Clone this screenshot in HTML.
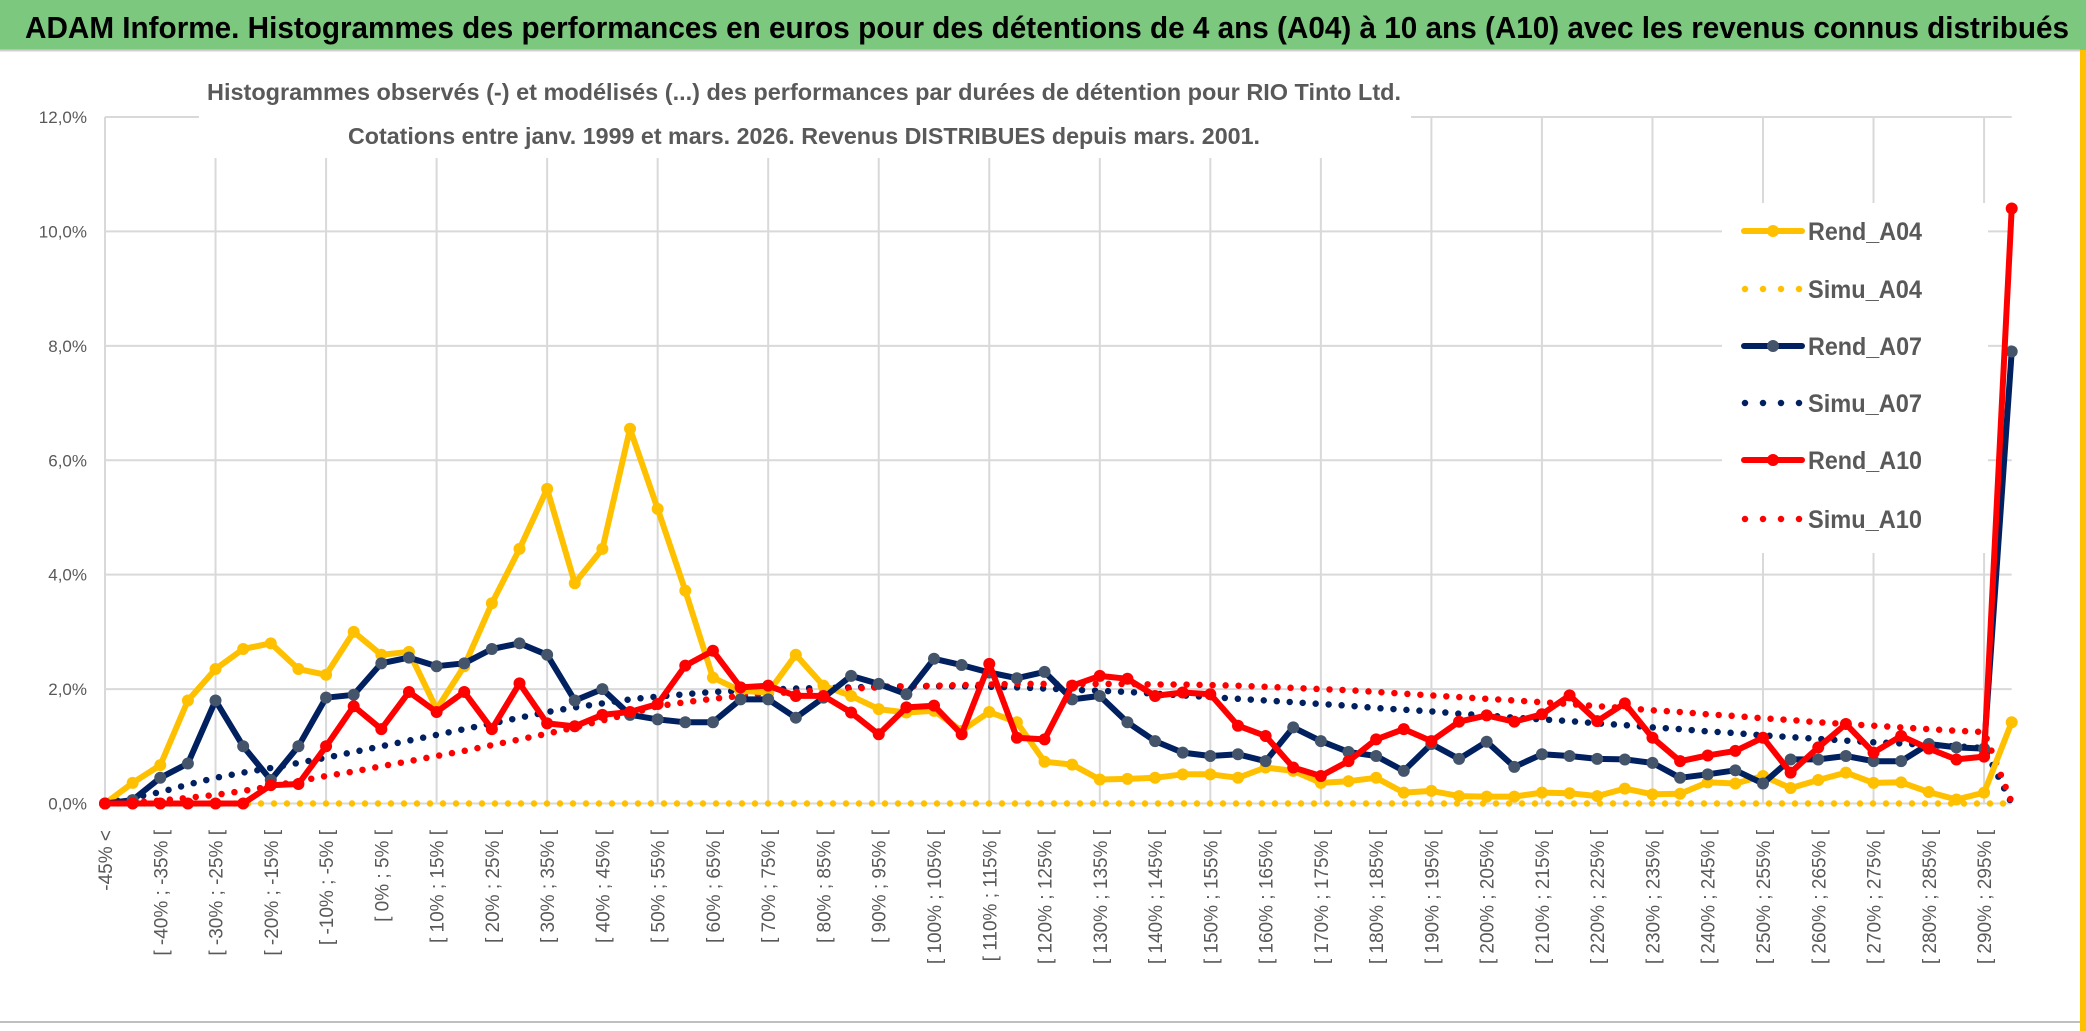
<!DOCTYPE html>
<html><head><meta charset="utf-8">
<style>
html,body{margin:0;padding:0;background:#fff;}
svg{display:block;}
</style></head>
<body>
<svg id="chart" width="2086" height="1031" viewBox="0 0 2086 1031" xmlns="http://www.w3.org/2000/svg">
  <rect x="0" y="0" width="2086" height="1031" fill="#fff"/>
  <rect x="0" y="0" width="2086" height="50" fill="#7dc87f"/>
  <line x1="0" y1="50.5" x2="2080" y2="50.5" stroke="#d0d0d0" stroke-width="2"/>
  <rect x="2080" y="50" width="6" height="981" fill="#ffc000"/>
  <line x1="0" y1="1022" x2="2080" y2="1022" stroke="#bfbfbf" stroke-width="2"/>
  <text x="25" y="38" font-family="'Liberation Sans', sans-serif" font-weight="bold" font-size="31" fill="#000" textLength="2044" lengthAdjust="spacingAndGlyphs">ADAM Informe. Histogrammes des performances en euros pour des détentions de 4 ans (A04) à 10 ans (A10) avec les revenus connus distribués</text>
  <g id="grid"></g>
  <g id="yticks"></g>
  <g id="xticks"></g>
  <rect x="199" y="62" width="1212" height="96" fill="#fff"/>
  <text x="207" y="100" font-family="'Liberation Sans', sans-serif" font-weight="bold" font-size="23" fill="#595959" textLength="1194" lengthAdjust="spacingAndGlyphs">Histogrammes observés (-) et modélisés (...) des performances par durées de détention pour RIO Tinto Ltd.</text>
  <text x="348" y="144" font-family="'Liberation Sans', sans-serif" font-weight="bold" font-size="23" fill="#595959" textLength="912" lengthAdjust="spacingAndGlyphs">Cotations entre janv. 1999 et mars. 2026. Revenus DISTRIBUES depuis mars. 2001.</text>
  <g id="series"></g>
  <g id="legend"></g>
</svg>
<script>
const categoriesCount = 70;
const yTicks = [0, 2, 4, 6, 8, 10, 12];
const yTickLabels = ["0,0%", "2,0%", "4,0%", "6,0%", "8,0%", "10,0%", "12,0%"];
const firstLabel = "-45% <";
const binStart = -45;
const binWidth = 5;

const rendA04 = [0,0.36,0.67,1.8,2.35,2.7,2.8,2.35,2.25,3.0,
2.6,2.65,1.65,2.4,3.5,4.45,5.5,3.85,4.45,6.55,
5.15,3.72,2.2,1.97,1.94,2.6,2.06,1.88,1.65,1.59,
1.62,1.27,1.6,1.42,0.73,0.68,0.42,0.43,0.45,0.51,
0.51,0.45,0.63,0.57,0.36,0.39,0.45,0.19,0.22,0.13,
0.12,0.12,0.19,0.18,0.13,0.26,0.16,0.17,0.37,0.35,
0.48,0.27,0.41,0.54,0.36,0.37,0.2,0.07,0.19,1.42];
const simuA04 = [0,0,0,0,0,0,0,0,0,0,
0,0,0,0,0,0,0,0,0,0,
0,0,0,0,0,0,0,0,0,0,
0,0,0,0,0,0,0,0,0,0,
0,0,0,0,0,0,0,0,0,0,
0,0,0,0,0,0,0,0,0,0,
0,0,0,0,0,0,0,0,0,0];
const rendA07 = [0,0.06,0.45,0.7,1.8,1.0,0.41,1.0,1.85,1.9,
2.45,2.55,2.4,2.45,2.7,2.8,2.6,1.8,2.0,1.55,
1.47,1.42,1.42,1.82,1.82,1.5,1.85,2.23,2.09,1.91,
2.53,2.42,2.29,2.19,2.3,1.82,1.88,1.42,1.09,0.89,
0.83,0.86,0.74,1.33,1.09,0.9,0.83,0.57,1.04,0.78,
1.08,0.64,0.86,0.83,0.78,0.77,0.71,0.45,0.51,0.58,
0.35,0.77,0.77,0.83,0.74,0.74,1.04,0.98,0.96,7.9];
const simuA07 = [0,0.1,0.2,0.33,0.45,0.54,0.62,0.71,0.8,0.9,
1.0,1.1,1.2,1.3,1.4,1.5,1.6,1.68,1.75,1.82,
1.87,1.91,1.95,1.97,1.99,2.01,2.02,2.03,2.04,2.05,
2.05,2.05,2.04,2.03,2.01,1.99,1.97,1.95,1.92,1.89,
1.86,1.83,1.8,1.77,1.74,1.71,1.67,1.64,1.61,1.57,
1.54,1.5,1.47,1.44,1.4,1.37,1.33,1.3,1.26,1.23,
1.19,1.16,1.13,1.1,1.07,1.05,1.02,1.0,0.97,0];
const rendA10 = [0,0,0,0,0,0,0.32,0.34,1.0,1.7,
1.3,1.95,1.6,1.95,1.3,2.1,1.4,1.35,1.55,1.6,
1.74,2.41,2.67,2.03,2.06,1.88,1.88,1.59,1.21,1.68,
1.71,1.21,2.44,1.15,1.12,2.06,2.23,2.18,1.88,1.94,
1.91,1.36,1.18,0.63,0.48,0.74,1.12,1.3,1.09,1.43,
1.54,1.43,1.56,1.89,1.44,1.75,1.15,0.74,0.84,0.92,
1.15,0.54,0.98,1.39,0.89,1.18,0.96,0.77,0.82,10.4];
const simuA10 = [0,0.02,0.05,0.1,0.15,0.22,0.3,0.39,0.48,0.56,
0.65,0.74,0.83,0.92,1.02,1.12,1.22,1.33,1.45,1.57,
1.7,1.77,1.83,1.88,1.92,1.95,1.98,2.01,2.03,2.05,
2.06,2.07,2.08,2.09,2.09,2.09,2.09,2.09,2.08,2.08,
2.07,2.06,2.04,2.02,2.0,1.98,1.95,1.92,1.89,1.86,
1.83,1.8,1.77,1.74,1.7,1.67,1.63,1.6,1.56,1.53,
1.49,1.46,1.42,1.39,1.36,1.33,1.3,1.27,1.25,0.02];

const NS = "http://www.w3.org/2000/svg";
const X0 = 105, X1 = 2011.7, Y0 = 803.5, Y12 = 117;
function xPos(i){ return X0 + (X1 - X0) * i / (categoriesCount - 1); }
function yPos(v){ return Y0 - (Y0 - Y12) * v / 12; }
function mk(tag, attrs, parent){
  const e = document.createElementNS(NS, tag);
  for (const k in attrs) e.setAttribute(k, attrs[k]);
  parent.appendChild(e);
  return e;
}
const grid = document.getElementById('grid');
yTicks.forEach((t, k) => {
  const l = mk('line', {x1: X0, x2: X1, y1: yPos(t), y2: yPos(t), stroke: '#d9d9d9', 'stroke-width': 2}, grid);
  
  
});
for (let i = 0; i < categoriesCount; i += 4) {
  const l = mk('line', {x1: xPos(i), x2: xPos(i), y1: Y12, y2: Y0, stroke: '#d9d9d9', 'stroke-width': 2}, grid);
  
  
}
const yt = document.getElementById('yticks');
yTicks.forEach((t, k) => {
  const e = mk('text', {x: 87, y: yPos(t) + 6, 'text-anchor': 'end', 'font-family': "'Liberation Sans', sans-serif", 'font-size': 17, fill: '#595959'}, yt);
  e.textContent = yTickLabels[k];
  
  
});
const xt = document.getElementById('xticks');
for (let i = 0; i < categoriesCount - 1; i += 2) {
  let label;
  if (i === 0) label = firstLabel;
  else { const a = binStart + binWidth * (i - 1); label = '[ ' + a + '% ; ' + (a + binWidth) + '% ['; }
  const x = xPos(i) + 7, y = 830;
  const e = mk('text', {x: x, y: y, 'text-anchor': 'end', transform: 'rotate(-90 ' + x + ' ' + y + ')', 'font-family': "'Liberation Sans', sans-serif", 'font-size': 19, fill: '#595959'}, xt);
  e.textContent = label;
  
  
}
const seriesG = document.getElementById('series');
function pts(arr){ return arr.map((v, i) => xPos(i).toFixed(1) + ',' + yPos(v).toFixed(1)).join(' '); }
function dotted(arr, color, name){
  const p = mk('polyline', {points: pts(arr), fill: 'none', stroke: color, 'stroke-width': 6.5, 'stroke-linecap': 'round', 'stroke-dasharray': '0 13'}, seriesG);
  
  
}
function solid(arr, color, mcolor, name){
  const g = mk('g', {}, seriesG);
  
  
  mk('polyline', {points: pts(arr), fill: 'none', stroke: color, 'stroke-width': 6, 'stroke-linejoin': 'round'}, g);
  arr.forEach((v, i) => {
    const c = mk('circle', {cx: xPos(i), cy: yPos(v), r: 6, fill: mcolor}, g);
    
    
  });
}
dotted(simuA04, '#ffc000', 'simu-a04-line');
dotted(simuA07, '#002060', 'simu-a07-line');
dotted(simuA10, '#ff0000', 'simu-a10-line');
solid(rendA04, '#ffc000', '#ffc000', 'rend-a04-line');
solid(rendA07, '#002060', '#44546a', 'rend-a07-line');
solid(rendA10, '#ff0000', '#ff0000', 'rend-a10-line');

const legendNames = ["Rend_A04", "Simu_A04", "Rend_A07", "Simu_A07", "Rend_A10", "Simu_A10"];
const legendColors = ["#ffc000", "#ffc000", "#002060", "#002060", "#ff0000", "#ff0000"];
const legendY = [231, 289, 346, 403, 460, 519];
const lg = document.getElementById('legend');
mk('rect', {x: 1722, y: 203, width: 266, height: 350, fill: '#fff'}, lg);
legendNames.forEach((n, k) => {
  const g = mk('g', {}, lg);
  
  
  const y = legendY[k];
  if (k % 2 === 0) {
    mk('line', {x1: 1744, x2: 1802, y1: y, y2: y, stroke: legendColors[k], 'stroke-width': 6, 'stroke-linecap': 'round'}, g);
    mk('circle', {cx: 1773, cy: y, r: 6, fill: k === 2 ? '#44546a' : legendColors[k]}, g);
  } else {
    mk('line', {x1: 1745, x2: 1800, y1: y, y2: y, stroke: legendColors[k], 'stroke-width': 6.5, 'stroke-linecap': 'round', 'stroke-dasharray': '0 18'}, g);
  }
  const t = mk('text', {x: 1808, y: y + 9, 'font-family': "'Liberation Sans', sans-serif", 'font-weight': 'bold', 'font-size': 25, fill: '#595959', textLength: 114, lengthAdjust: 'spacingAndGlyphs'}, g);
  t.textContent = n;
});
</script>
</body></html>
